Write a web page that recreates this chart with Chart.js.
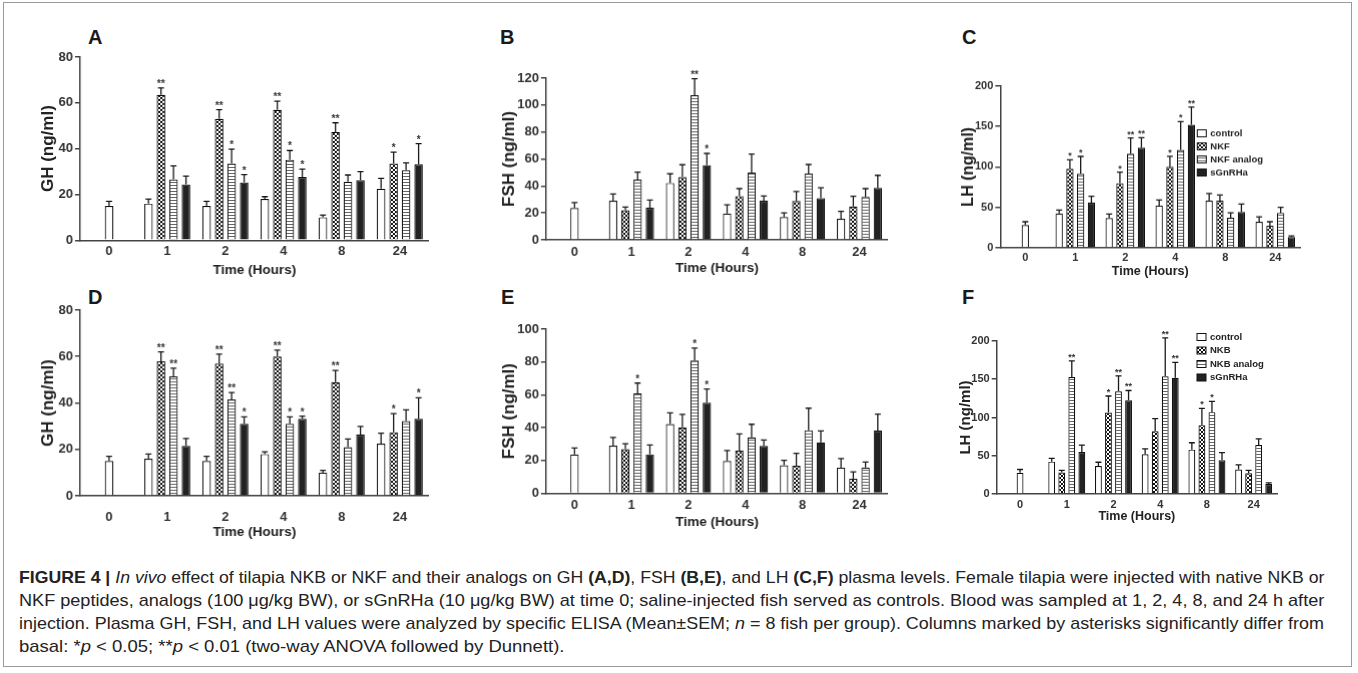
<!DOCTYPE html>
<html>
<head>
<meta charset="utf-8">
<script src="https://cdn.jsdelivr.net/npm/chart.js@4.4.1/dist/chart.umd.min.js"></script>
<style>
body{margin:0;width:1358px;height:673px;background:#fff;overflow:hidden;font-family:"Liberation Sans",Arial,sans-serif;position:relative;}
.frame{position:absolute;left:3px;top:2px;width:1349px;height:665px;border:1px solid #9a9a9a;box-sizing:border-box;}
.panel{position:absolute;}
.letter{position:absolute;font-weight:bold;font-size:20px;line-height:20px;color:#1a1a1a;}
.cap{position:absolute;left:19px;font-size:17px;line-height:20px;color:#222;white-space:nowrap;transform-origin:0 50%;}
</style>
</head>
<body>
<div class="frame"></div>
<div class="letter" style="left:88px;top:27px">A</div>
<div class="letter" style="left:500px;top:27px">B</div>
<div class="letter" style="left:962px;top:27px">C</div>
<div class="letter" style="left:88px;top:287px">D</div>
<div class="letter" style="left:501px;top:287px">E</div>
<div class="letter" style="left:962px;top:287px">F</div>

<div class="cap j" style="top:568px"><b>FIGURE 4 |</b> <i>In vivo</i> effect of tilapia NKB or NKF and their analogs on GH <b>(A,D)</b>, FSH <b>(B,E)</b>, and LH <b>(C,F)</b> plasma levels. Female tilapia were injected with native NKB or</div>
<div class="cap j" style="top:591px">NKF peptides, analogs (100 μg/kg BW), or sGnRHa (10 μg/kg BW) at time 0; saline-injected fish served as controls. Blood was sampled at 1, 2, 4, 8, and 24 h after</div>
<div class="cap j" style="top:614px">injection. Plasma GH, FSH, and LH values were analyzed by specific ELISA (Mean±SEM; <i>n</i> = 8 fish per group). Columns marked by asterisks significantly differ from</div>
<div class="cap" style="top:637px">basal: *<i>p</i> &lt; 0.05; **<i>p</i> &lt; 0.01 (two-way ANOVA followed by Dunnett).</div>

<script>
const timeLabels = ['0', '1', '2', '4', '8', '24'];

// GH (A: NKF, D: NKB)
const ghCtrl = [15, 16, 15, 18, 10, 22.5];
const ghCtrlErr = [2, 2, 2, 1, 1, 4.5];
const ghNkf = [null, 63.5, 53, 57, 47.3, 33.5];
const ghNkfErr = [null, 3, 4, 3.7, 4, 5];
const ghNkfAnalog = [null, 26.5, 33.5, 35.2, 25.5, 30.6];
const ghNkfAnalogErr = [null, 6, 6.3, 4, 3, 3.2];
const ghSgA = [null, 24.3, 25.2, 27.6, 26.2, 33.2];
const ghSgAErr = [null, 3.7, 3.5, 3.5, 3.8, 9];
const ghNkfStars = ['', '**', '**', '**', '**', '*'];
const ghNkfAnalogStars = ['', '', '*', '*', '', ''];
const ghSgAStars = ['', '', '*', '*', '', '*'];

const ghNkb = [null, 58, 57, 60, 49, 27.4];
const ghNkbErr = [null, 4, 4, 2.8, 5, 8];
const ghNkbAnalog = [null, 51.5, 41.5, 31, 21, 32.2];
const ghNkbAnalogErr = [null, 3.5, 3, 3, 3.5, 4.8];
const ghSgD = [null, 21.5, 31, 33.2, 26.4, 33.2];
const ghSgDErr = [null, 3.2, 3, 1.1, 3.5, 9];
const ghNkbStars = ['', '**', '**', '**', '**', '*'];
const ghNkbAnalogStars = ['', '**', '**', '*', '', ''];
const ghSgDStars = ['', '', '*', '*', '', '*'];

// FSH (B: NKF, E: NKB)
const fshCtrl = [23.6, 29, 42.2, 19.6, 17, 15.6];
const fshCtrlErr = [4, 5, 6.8, 6.4, 3, 5.5];
const fshNkf = [null, 21.9, 46.5, 32.5, 28.8, 24.8];
const fshNkfErr = [null, 2.4, 9.2, 5.5, 7, 7.5];
const fshNkfAnalog = [null, 44.7, 107.3, 50, 49.2, 31.8];
const fshNkfAnalogErr = [null, 5.5, 12.2, 13.6, 6.7, 6.2];
const fshSgB = [null, 23.9, 55.4, 29, 31, 38.5];
const fshSgBErr = [null, 5.7, 8.7, 3.5, 7.7, 9.4];
const fshNkfStars = ['', '', '', '', '', ''];
const fshNkfAnalogStars = ['', '', '**', '', '', ''];
const fshSgBStars = ['', '', '*', '', '', ''];

const fshNkb = [null, 26.9, 40.2, 25.9, 16.7, 9];
const fshNkbErr = [null, 3.3, 7.8, 10.2, 7.6, 4];
const fshNkbAnalog = [null, 60.8, 80.8, 34.1, 38.4, 15.7];
const fshNkbAnalogErr = [null, 6.3, 7.6, 7.9, 13.4, 3.3];
const fshSgE = [null, 23.7, 55.1, 28.8, 31, 38.2];
const fshSgEErr = [null, 5.7, 8.4, 3.6, 7, 10];
const fshNkbStars = ['', '', '', '', '', ''];
const fshNkbAnalogStars = ['', '*', '*', '', '', ''];
const fshSgEStars = ['', '', '*', '', '', ''];

// LH (C: NKF, F: NKB)
const lhCtrl = [27.8, 42.3, 36.5, 52, 58, 32];
const lhCtrlErr = [4.2, 4.2, 5, 7, 9, 6];
const lhNkf = [null, 97.5, 79.7, 100, 58, 27];
const lhNkfErr = [null, 11.2, 13.7, 13, 7, 5];
const lhNkfAnalog = [null, 91.3, 116.2, 121, 37, 43];
const lhNkfAnalogErr = [null, 21.6, 19.5, 35, 6, 7];
const lhSgC = [null, 55.6, 123.7, 152, 44, 13];
const lhSgCErr = [null, 7.9, 12.4, 22, 10, 1.5];
const lhNkfStars = ['', '*', '*', '*', '', ''];
const lhNkfAnalogStars = ['', '*', '**', '*', '', ''];
const lhSgCStars = ['', '', '**', '**', '', ''];

const lhNkb = [null, 28, 106.4, 82, 90, 27];
const lhNkbErr = [null, 3, 21.7, 16.6, 22, 4];
const lhNkbAnalog = [null, 153, 134.3, 154, 107, 64];
const lhNkbAnalogErr = [null, 21, 20, 50, 14, 8];
const lhSgF = [null, 55, 122.6, 152, 44, 13];
const lhSgFErr = [null, 9, 12.7, 20, 10, 1.5];
const lhNkbStars = ['', '', '*', '', '*', ''];
const lhNkbAnalogStars = ['', '**', '**', '**', '*', ''];
const lhSgFStars = ['', '', '**', '**', '', ''];

Chart.defaults.font.family = '"Liberation Sans", Arial, sans-serif';
Chart.defaults.animation = false;

// caption: squeeze each line to the reference widths
(function fitCaption() {
  const lines = document.querySelectorAll('.cap');
  const last = lines[lines.length - 1];
  const k4 = 546 / last.scrollWidth;
  last.style.transform = 'scaleX(' + k4 + ')';
  for (let i = 0; i < lines.length - 1; i++) {
    const el = lines[i];
    const nat = el.scrollWidth;
    if (nat * k4 >= 1305) {
      el.style.transform = 'scaleX(' + (1305 / nat) + ')';
    } else {
      el.style.whiteSpace = 'normal';
      el.style.textAlign = 'justify';
      el.style.textAlignLast = 'justify';
      el.style.width = (1305 / k4) + 'px';
      el.style.transform = 'scaleX(' + k4 + ')';
    }
  }
})();

function makePattern(kind) {
  const c = document.createElement('canvas');
  const ctx = c.getContext('2d');
  if (kind === 'check') {
    c.width = 4; c.height = 4;
    ctx.fillStyle = '#fff'; ctx.fillRect(0, 0, 4, 4);
    ctx.fillStyle = '#111'; ctx.fillRect(0, 0, 2, 2); ctx.fillRect(2, 2, 2, 2);
  } else {
    c.width = 3; c.height = 3;
    ctx.fillStyle = '#fff'; ctx.fillRect(0, 0, 3, 3);
    ctx.fillStyle = '#666'; ctx.fillRect(0, 0, 3, 1);
  }
  return ctx.createPattern(c, 'repeat');
}
const checkFill = makePattern('check');
const stripeFill = makePattern('stripe');

// error bars + asterisks on top of each bar
const errorBars = {
  id: 'errorBars',
  afterDatasetsDraw(chart, args, opts) {
    const ctx = chart.ctx, ys = chart.scales.y;
    ctx.save();
    chart.data.datasets.forEach((ds, i) => {
      const meta = chart.getDatasetMeta(i);
      meta.data.forEach((bar, j) => {
        const v = ds.data[j];
        if (v == null) return;
        const top = ys.getPixelForValue(v + (ds.err[j] || 0));
        ctx.strokeStyle = '#1a1a1a';
        ctx.lineWidth = 1.3;
        ctx.beginPath();
        ctx.moveTo(bar.x, bar.y); ctx.lineTo(bar.x, top);
        ctx.moveTo(bar.x - opts.cap, top); ctx.lineTo(bar.x + opts.cap, top);
        ctx.stroke();
        const s = ds.stars[j];
        if (s) {
          ctx.fillStyle = '#333';
          ctx.font = 'bold ' + opts.starSize + 'px "Liberation Sans"';
          ctx.textAlign = 'center';
          ctx.textBaseline = 'alphabetic';
          ctx.fillText(s, bar.x, top - 1);
        }
      });
    });
    ctx.restore();
  }
};

// small legend inside the plot (panels C and F)
const boxLegend = {
  id: 'boxLegend',
  afterDraw(chart, args, opts) {
    if (!opts || !opts.show) return;
    const ctx = chart.ctx;
    ctx.save();
    chart.data.datasets.forEach((ds, i) => {
      const yy = opts.y + i * opts.gap;
      ctx.fillStyle = ds.backgroundColor;
      ctx.fillRect(opts.x, yy - 3.5, 9, 7);
      ctx.strokeStyle = '#111'; ctx.lineWidth = 1;
      ctx.strokeRect(opts.x, yy - 3.5, 9, 7);
      ctx.fillStyle = '#222';
      ctx.font = 'bold 9.5px "Liberation Sans"';
      ctx.textAlign = 'left'; ctx.textBaseline = 'middle';
      ctx.fillText(ds.label, opts.x + 13, yy);
    });
    ctx.restore();
  }
};

function panel(p) {
  const left = p.yTitleX - p.yTitleSize * 0.6;
  const top = p.T - 10;
  const bottom = p.xTitleY + p.xTitleSize * 0.6;
  const width = p.R + 4 - left, height = bottom - top;
  const div = document.createElement('div');
  div.className = 'panel';
  div.style.left = left + 'px'; div.style.top = top + 'px';
  div.style.width = width + 'px'; div.style.height = height + 'px';
  const cv = document.createElement('canvas');
  div.appendChild(cv);
  document.body.appendChild(div);

  const catW = (p.R - p.L) / 6;
  const maxBar = catW * 0.86 / 4 * 0.68;
  const fills = ['#fff', checkFill, stripeFill, '#222'];
  const datasets = p.series.map((s, i) => ({
    label: s[0], data: s[1], err: s[2], stars: s[3],
    backgroundColor: fills[i], borderColor: '#111', borderWidth: 1.2,
    categoryPercentage: 0.86, barPercentage: 0.68, maxBarThickness: maxBar
  }));
  const yW = p.L - left, xH = bottom - p.B;

  new Chart(cv, {
    type: 'bar',
    data: { labels: timeLabels, datasets: datasets },
    plugins: [errorBars, boxLegend],
    options: {
      responsive: true,
      maintainAspectRatio: false,
      skipNull: true,
      layout: { padding: { top: 10, right: 4, left: 0, bottom: 0 } },
      plugins: {
        legend: { display: false },
        tooltip: { enabled: false },
        errorBars: { cap: 3, starSize: p.starSize },
        boxLegend: p.legend ? { show: true, x: p.legend.x - left, y: p.legend.y - top, gap: p.legend.gap } : { show: false }
      },
      scales: {
        x: {
          afterFit: s => { s.height = xH; },
          grid: { display: true, drawOnChartArea: false, drawTicks: false },
          border: { display: true, color: '#444', width: 1.5 },
          ticks: { color: '#333', font: { size: p.tickSize, weight: 'bold' }, padding: p.xTickPad },
          title: { display: true, text: 'Time (Hours)', color: '#222', padding: 0,
                   font: { size: p.xTitleSize, weight: 'bold' } }
        },
        y: {
          min: 0, max: p.yMax,
          afterFit: s => { s.width = yW; },
          grid: { display: true, drawOnChartArea: false, drawTicks: true, tickLength: 5, color: '#444', lineWidth: 1.5 },
          border: { display: true, color: '#444', width: 1.5 },
          ticks: { stepSize: p.step, color: '#333', font: { size: p.tickSize, weight: 'bold' }, padding: 2 },
          title: { display: true, text: p.yTitle, color: '#222', padding: 0,
                   font: { size: p.yTitleSize, weight: 'bold' } }
        }
      }
    }
  });
}

panel({ L: 80, R: 428, T: 56.7, B: 240, yMax: 80, step: 20, yTitle: 'GH (ng/ml)', yTitleX: 48.3, yTitleSize: 17,
  tickSize: 13, xTickPad: 3.5, xTitleY: 270, xTitleSize: 13.5, starSize: 10,
  series: [['control', ghCtrl, ghCtrlErr, ['', '', '', '', '', '']], ['NKF', ghNkf, ghNkfErr, ghNkfStars],
           ['NKF analog', ghNkfAnalog, ghNkfAnalogErr, ghNkfAnalogStars], ['sGnRHa', ghSgA, ghSgAErr, ghSgAStars]] });

panel({ L: 546, R: 887, T: 78.3, B: 239.3, yMax: 120, step: 20, yTitle: 'FSH (ng/ml)', yTitleX: 509.3, yTitleSize: 17,
  tickSize: 13, xTickPad: 4.2, xTitleY: 268, xTitleSize: 13.5, starSize: 10,
  series: [['control', fshCtrl, fshCtrlErr, ['', '', '', '', '', '']], ['NKF', fshNkf, fshNkfErr, fshNkfStars],
           ['NKF analog', fshNkfAnalog, fshNkfAnalogErr, fshNkfAnalogStars], ['sGnRHa', fshSgB, fshSgBErr, fshSgBStars]] });

panel({ L: 1000, R: 1300, T: 86, B: 246.7, yMax: 200, step: 50, yTitle: 'LH (ng/ml)', yTitleX: 968.3, yTitleSize: 16,
  tickSize: 11, xTickPad: 4, xTitleY: 271, xTitleSize: 12.5, starSize: 9,
  legend: { x: 1197, y: 133, gap: 13 },
  series: [['control', lhCtrl, lhCtrlErr, ['', '', '', '', '', '']], ['NKF', lhNkf, lhNkfErr, lhNkfStars],
           ['NKF analog', lhNkfAnalog, lhNkfAnalogErr, lhNkfAnalogStars], ['sGnRHa', lhSgC, lhSgCErr, lhSgCStars]] });

panel({ L: 80, R: 428, T: 310, B: 495, yMax: 80, step: 20, yTitle: 'GH (ng/ml)', yTitleX: 48.3, yTitleSize: 17,
  tickSize: 13, xTickPad: 13.5, xTitleY: 531.7, xTitleSize: 13.5, starSize: 10,
  series: [['control', ghCtrl, ghCtrlErr, ['', '', '', '', '', '']], ['NKB', ghNkb, ghNkbErr, ghNkbStars],
           ['NKB analog', ghNkbAnalog, ghNkbAnalogErr, ghNkbAnalogStars], ['sGnRHa', ghSgD, ghSgDErr, ghSgDStars]] });

panel({ L: 546, R: 887, T: 329.3, B: 492.7, yMax: 100, step: 20, yTitle: 'FSH (ng/ml)', yTitleX: 509.3, yTitleSize: 17,
  tickSize: 13, xTickPad: 4.5, xTitleY: 521.7, xTitleSize: 13.5, starSize: 10,
  series: [['control', fshCtrl, fshCtrlErr, ['', '', '', '', '', '']], ['NKB', fshNkb, fshNkbErr, fshNkbStars],
           ['NKB analog', fshNkbAnalog, fshNkbAnalogErr, fshNkbAnalogStars], ['sGnRHa', fshSgE, fshSgEErr, fshSgEStars]] });

panel({ L: 996.7, R: 1277, T: 341, B: 494, yMax: 200, step: 50, yTitle: 'LH (ng/ml)', yTitleX: 966, yTitleSize: 15,
  tickSize: 11, xTickPad: 4.3, xTitleY: 516.7, xTitleSize: 12.5, starSize: 9,
  legend: { x: 1197, y: 337, gap: 13.5 },
  series: [['control', lhCtrl, lhCtrlErr, ['', '', '', '', '', '']], ['NKB', lhNkb, lhNkbErr, lhNkbStars],
           ['NKB analog', lhNkbAnalog, lhNkbAnalogErr, lhNkbAnalogStars], ['sGnRHa', lhSgF, lhSgFErr, lhSgFStars]] });
</script>
</body>
</html>
